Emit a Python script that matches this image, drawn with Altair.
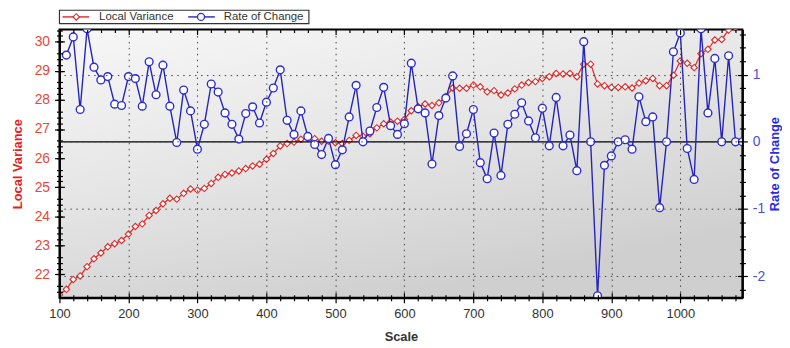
import altair as alt
import pandas as pd

# ---------------- data ----------------
scale_lv = [100, 110, 120, 130, 140, 150, 160, 170, 180, 190,
            200, 210, 220, 230, 240, 250, 260, 270, 280, 290,
            300, 310, 320, 330, 340, 350, 360, 370, 380, 390,
            400, 410, 420, 430, 440, 450, 460, 470, 480, 490,
            500, 510, 520, 530, 540, 550, 560, 570, 580, 590,
            600, 610, 620, 630, 640, 650, 660, 670, 680, 690,
            700, 710, 720, 730, 740, 750, 760, 770, 780, 790,
            800, 810, 820, 830, 840, 850, 860, 870, 880, 890,
            900, 910, 920, 930, 940, 950, 960, 970, 980, 990,
            1000, 1010, 1020, 1030, 1040, 1050, 1060, 1070, 1080, 1090]
local_variance = [21.30, 21.49, 21.83, 21.95, 22.27, 22.54, 22.74, 22.95, 23.06, 23.17,
                  23.39, 23.65, 23.74, 24.03, 24.20, 24.43, 24.62, 24.59, 24.79, 24.94,
                  24.90, 24.96, 25.13, 25.34, 25.44, 25.49, 25.56, 25.64, 25.73, 25.79,
                  25.96, 26.16, 26.42, 26.50, 26.55, 26.65, 26.69, 26.67, 26.58, 26.59,
                  26.53, 26.50, 26.61, 26.78, 26.75, 26.84, 27.04, 27.18, 27.24, 27.27,
                  27.33, 27.63, 27.77, 27.86, 27.81, 27.90, 28.11, 28.41, 28.40, 28.40,
                  28.51, 28.45, 28.28, 28.32, 28.17, 28.24, 28.38, 28.51, 28.60, 28.63,
                  28.74, 28.80, 28.91, 28.89, 28.91, 28.80, 29.23, 29.23, 28.55, 28.49,
                  28.43, 28.43, 28.45, 28.41, 28.58, 28.66, 28.74, 28.49, 28.49, 28.85,
                  29.34, 29.26, 29.11, 29.59, 29.74, 30.06, 30.08, 30.40, 30.48, 30.55]

scale_roc = [110, 120, 130, 140, 150, 160, 170, 180, 190,
             200, 210, 220, 230, 240, 250, 260, 270, 280, 290,
             300, 310, 320, 330, 340, 350, 360, 370, 380, 390,
             400, 410, 420, 430, 440, 450, 460, 470, 480, 490,
             500, 510, 520, 530, 540, 550, 560, 570, 580, 590,
             600, 610, 620, 630, 640, 650, 660, 670, 680, 690,
             700, 710, 720, 730, 740, 750, 760, 770, 780, 790,
             800, 810, 820, 830, 840, 850, 860, 870, 880, 890,
             900, 910, 920, 930, 940, 950, 960, 970, 980, 990,
             1000, 1010, 1020, 1030, 1040, 1050, 1060, 1070, 1080, 1090]
rate_of_change = [1.29, 1.56, 0.48, 1.68, 1.11, 0.92, 0.97, 0.56, 0.54,
                  0.97, 0.94, 0.53, 1.19, 0.70, 1.14, 0.53, -0.01, 0.77, 0.46,
                  -0.11, 0.26, 0.86, 0.74, 0.43, 0.26, 0.04, 0.42, 0.52, 0.28,
                  0.59, 0.80, 1.07, 0.32, 0.11, 0.46, 0.08, -0.04, -0.19, 0.05,
                  -0.34, -0.12, 0.37, 0.84, 0.00, 0.16, 0.51, 0.81, 0.24, 0.11,
                  0.27, 1.17, 0.49, 0.43, -0.33, 0.39, 0.65, 0.98, -0.07, 0.12,
                  0.48, -0.31, -0.55, 0.13, -0.50, 0.26, 0.41, 0.58, 0.31, 0.06,
                  0.50, -0.06, 0.66, -0.06, 0.10, -0.43, 1.49, 0.00, -2.29, -0.35,
                  -0.21, 0.00, 0.03, -0.11, 0.67, 0.30, 0.37, -0.98, 0.00, 1.34,
                  1.62, -0.10, -0.56, 1.68, 0.43, 1.24, 0.00, 1.28, 0.00, 0.00]

# tick positions
x_major = [100, 200, 300, 400, 500, 600, 700, 800, 900, 1000]
x_minor = [v for v in range(120, 1090, 20) if v % 100 != 0]
lv_major = [22, 23, 24, 25, 26, 27, 28, 29, 30]
lv_minor = [round(21.4 + 0.2 * i, 1) for i in range(46) if (i + 3) % 5 != 0]
roc_major = [-2, -1, 0, 1]
roc_minor = [round(-2.2 + 0.2 * i, 1) for i in range(20) if (i + 4) % 5 != 0]

df_lv = pd.DataFrame({"scale": scale_lv, "lv": local_variance})
df_roc = pd.DataFrame({"scale": scale_roc, "roc": rate_of_change})

# ---------------- styling ----------------
W, H = 690, 271
FONT = "Liberation Sans"
RED_LINE = "#e02626"
BLUE_LINE = "#2424bc"
BLUE_MARK = "#2c2cd0"
MAJ, MIN = 5, 3

x_scale = alt.Scale(domain=[100, 1090], nice=False, zero=False)
lv_scale = alt.Scale(domain=[21.2, 30.42], nice=False, zero=False)
roc_scale = alt.Scale(domain=[-2.32, 1.67], nice=False, zero=False)
grid_dash = [1.5, 4.5]


def tick_axis(orient, values, size, inward):
    """Axis that only draws ticks (outward, or inward via negative offset)."""
    return alt.Axis(
        orient=orient, values=values, labels=False, domain=False, grid=False,
        title=None, tickSize=size, tickColor="black", tickWidth=1.2,
        offset=-size if inward else 0, zindex=1,
    )


x_axis_main = alt.Axis(
    orient="bottom", values=x_major, labelExpr="datum.value + ''", labelOverlap=False,
    labelFlush=False,
    tickSize=MAJ, tickColor="black", tickWidth=1.2, domainColor="black", domainWidth=2,
    labelFont=FONT, labelFontSize=13, labelColor="#333333", labelPadding=5,
    title="Scale", titleFont=FONT, titleFontSize=13, titleFontWeight="bold",
    titleColor="#333333", titleY=39, titleBaseline="middle",
    grid=True, gridColor="#444444", gridDash=grid_dash, gridWidth=1, zindex=1,
)
lv_axis_main = alt.Axis(
    orient="left", values=lv_major, labelExpr="datum.value + ''", labelOverlap=False,
    labelFlush=False,
    tickSize=MAJ, tickColor="black", tickWidth=1.2, domainColor="black", domainWidth=2,
    labelFont=FONT, labelFontSize=14, labelColor="#e8463c", labelPadding=5,
    title="Local Variance", titleFont=FONT, titleFontSize=13, titleFontWeight="bold",
    titleColor="#e61e1e", titleAngle=270, titleX=-42, titleY=H / 2,
    titleAlign="center", titleBaseline="middle", grid=False, zindex=1,
)
roc_axis_main = alt.Axis(
    orient="right", values=roc_major, labelExpr="datum.value + ''", labelOverlap=False,
    labelFlush=False,
    tickSize=MAJ, tickColor="black", tickWidth=1.2, domainColor="black", domainWidth=2,
    labelFont=FONT, labelFontSize=14, labelColor="#4d4ddc", labelPadding=5,
    title="Rate of Change", titleFont=FONT, titleFontSize=13, titleFontWeight="bold",
    titleColor="#2a2ae6", titleAngle=270, titleX=32, titleY=H / 2,
    titleAlign="center", titleBaseline="middle",
    grid=True, gridColor="#444444", gridDash=grid_dash, gridWidth=1, zindex=1,
)

one = alt.Data(values=[{}])

bg = alt.Chart(one).mark_rect(
    fill=alt.LinearGradient(
        gradient="linear", x1=0, y1=0, x2=0.5, y2=1,
        stops=[alt.GradientStop(color="#f7f7f7", offset=0),
               alt.GradientStop(color="#e6e6e6", offset=0.5),
               alt.GradientStop(color="#cfcfcf", offset=1)]),
    stroke="black", strokeWidth=2,
).encode(x=alt.value(0), x2=alt.value(W), y=alt.value(0), y2=alt.value(H))


def enc_lv(xaxis, yaxis):
    return dict(
        x=alt.X("scale:Q", scale=x_scale, axis=xaxis),
        y=alt.Y("lv:Q", scale=lv_scale, axis=yaxis),
    )


def enc_roc(xaxis, yaxis):
    return dict(
        x=alt.X("scale:Q", scale=x_scale, axis=xaxis),
        y=alt.Y("roc:Q", scale=roc_scale, axis=yaxis),
    )


# data layers (carry the main axes and some tick axes)
lv_line = alt.Chart(df_lv).mark_line(color=RED_LINE, strokeWidth=1.2, clip=True).encode(
    **enc_lv(x_axis_main, lv_axis_main))
lv_pts = alt.Chart(df_lv).mark_point(
    shape="diamond", size=42, filled=True, fill="white", stroke=RED_LINE,
    strokeWidth=1.1, opacity=1, clip=True,
).encode(**enc_lv(tick_axis("bottom", x_minor, MIN, False), tick_axis("left", lv_minor, MIN, False)))

zero = alt.Chart(one).mark_rule(color="black", strokeWidth=1.3).encode(
    y=alt.YDatum(0, scale=roc_scale, axis=None))
roc_line = alt.Chart(df_roc).mark_line(color=BLUE_LINE, strokeWidth=1.4, clip=True).encode(
    **enc_roc(tick_axis("top", x_major, MAJ, True), roc_axis_main))
roc_pts = alt.Chart(df_roc).mark_point(
    shape="circle", size=62, filled=True, fill="white", stroke=BLUE_MARK,
    strokeWidth=1.4, opacity=1, clip=True,
).encode(**enc_roc(tick_axis("top", x_minor, MIN, True), tick_axis("right", roc_minor, MIN, False)))

# invisible helper layers that only carry inward tick axes
ghost = dict(opacity=0, size=1)
h1 = alt.Chart(df_lv).mark_point(**ghost).encode(
    **enc_lv(tick_axis("bottom", x_major, MAJ, True), tick_axis("left", lv_major, MAJ, True)))
h2 = alt.Chart(df_lv).mark_point(**ghost).encode(
    **enc_lv(tick_axis("bottom", x_minor, MIN, True), tick_axis("left", lv_minor, MIN, True)))
h3 = alt.Chart(df_roc).mark_point(**ghost).encode(
    **enc_roc(None, tick_axis("right", roc_major, MAJ, True)))
h4 = alt.Chart(df_roc).mark_point(**ghost).encode(
    **enc_roc(None, tick_axis("right", roc_minor, MIN, True)))

# ---------------- legend (drawn above the plot) ----------------
LY = -12.75
leg_box = alt.Chart(one).mark_rect(fill="white", stroke="#333333", strokeWidth=1.2).encode(
    x=alt.value(0), x2=alt.value(252), y=alt.value(-19.5), y2=alt.value(-6))
leg_r_line = alt.Chart(one).mark_rule(color=RED_LINE, strokeWidth=1.4).encode(
    x=alt.value(3), x2=alt.value(30), y=alt.value(LY))
leg_r_pt = alt.Chart(one).mark_point(
    shape="diamond", size=42, filled=True, fill="white", stroke=RED_LINE, strokeWidth=1.1, opacity=1
).encode(x=alt.value(17), y=alt.value(LY))
leg_r_txt = alt.Chart(one).mark_text(
    text="Local Variance", align="left", baseline="middle", font=FONT, fontSize=11.5, color="#333333"
).encode(x=alt.value(40), y=alt.value(LY + 0.5))
leg_b_line = alt.Chart(one).mark_rule(color=BLUE_LINE, strokeWidth=1.4).encode(
    x=alt.value(130), x2=alt.value(157), y=alt.value(LY))
leg_b_pt = alt.Chart(one).mark_point(
    shape="circle", size=50, filled=True, fill="white", stroke=BLUE_MARK, strokeWidth=1.3, opacity=1
).encode(x=alt.value(143), y=alt.value(LY))
leg_b_txt = alt.Chart(one).mark_text(
    text="Rate of Change", align="left", baseline="middle", font=FONT, fontSize=11.5, color="#333333"
).encode(x=alt.value(166), y=alt.value(LY + 0.5))

chart = alt.layer(
    bg, h1, h2, h3, h4, lv_line, lv_pts, zero, roc_line, roc_pts,
    leg_box, leg_r_line, leg_r_pt, leg_r_txt, leg_b_line, leg_b_pt, leg_b_txt,
).resolve_scale(y="independent").resolve_axis(x="independent").properties(
    width=W, height=H,
    autosize=alt.AutoSizeParams(type="none"),
    padding={"left": 52, "top": 20, "right": 40, "bottom": 49},
    background="white",
).configure_view(strokeWidth=0)

chart.save("out.html", embed_options={"renderer": "svg", "actions": False})
